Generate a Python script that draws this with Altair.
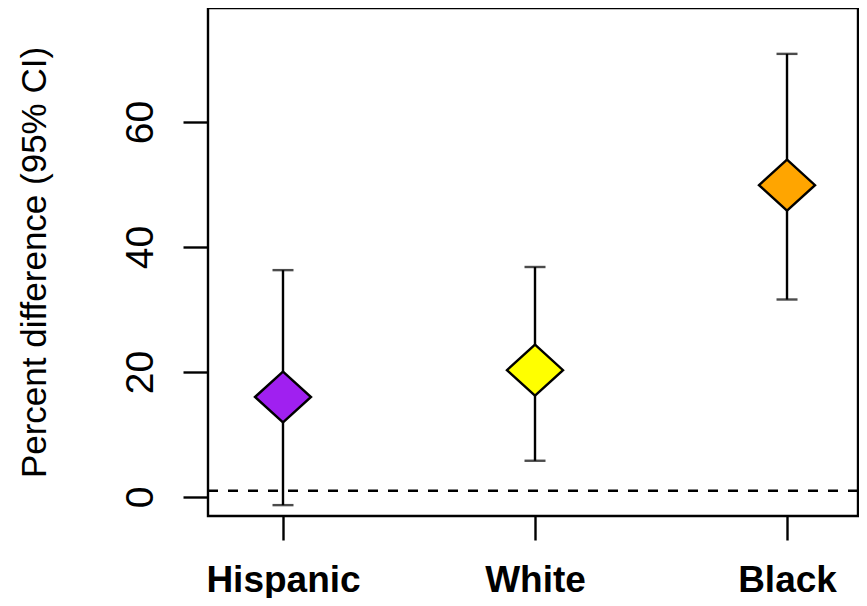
import altair as alt
import pandas as pd

groups = ["Hispanic", "White", "Black"]
positions = [1, 2, 3]
estimate = [16.0, 20.3, 49.9]
ci_low = [-1.3, 5.8, 31.6]
ci_high = [36.3, 36.8, 70.9]
colors = ["#A020F0", "#FFFF00", "#FFA500"]
ref_value = [1.0]
y_ticks = [0, 20, 40, 60]

df = pd.DataFrame({"group": groups, "pos": positions, "est": estimate,
                   "lo": ci_low, "hi": ci_high})
ref = pd.DataFrame({"ref": ref_value})

FONT = "Liberation Sans"
LW = 2.4
label_expr = "[" + ",".join(["''"] + ["'%s'" % g for g in groups]) + "][datum.value]"

x_scale = alt.Scale(domain=[0.7024, 3.2817], nice=False, zero=False)
x_axis = alt.Axis(
    title=None, values=positions, labelExpr=label_expr, domain=False,
    grid=False, ticks=True, tickSize=24, tickWidth=LW, tickColor="black",
    labelFont=FONT, labelFontSize=37, labelFontWeight="bold",
    labelColor="black", labelAngle=0, labelAlign="center",
    labelBaseline="alphabetic", labelPadding=51, labelFlush=False,
    labelOverlap=False,
)
x_enc = alt.X("pos:Q", scale=x_scale, axis=x_axis)

y_scale = alt.Scale(domain=[-3.04, 78.24], nice=False, zero=False)
y_axis = alt.Axis(
    title="Percent difference (95% CI)", values=y_ticks, domain=False,
    grid=False, tickSize=25, tickWidth=LW, tickColor="black",
    labelFont=FONT, labelFontSize=39, labelColor="black", labelAngle=270,
    labelAlign="center", labelBaseline="alphabetic", labelPadding=31,
    labelFlush=False, labelOverlap=False,
    titleFont=FONT, titleFontSize=35, titleFontWeight="normal",
    titleColor="black", titleAngle=270, titleAlign="center",
    titleBaseline="alphabetic", titleX=-163, titleY=254,
)

refline = alt.Chart(ref).mark_rule(
    color="black", strokeWidth=LW, strokeDash=[10, 10]
).encode(y=alt.Y("ref:Q", scale=y_scale, axis=y_axis))

bars = alt.Chart(df).mark_rule(color="black", strokeWidth=LW).encode(
    x=x_enc, y=alt.Y("lo:Q", scale=y_scale, axis=y_axis), y2="hi:Q"
)
cap_lo = alt.Chart(df).mark_tick(color="black", size=21, thickness=LW, orient="horizontal").encode(
    x=x_enc, y=alt.Y("lo:Q", scale=y_scale, axis=y_axis)
)
cap_hi = alt.Chart(df).mark_tick(color="black", size=21, thickness=LW, orient="horizontal").encode(
    x=x_enc, y=alt.Y("hi:Q", scale=y_scale, axis=y_axis)
)
points = alt.Chart(df).mark_point(
    shape="M-1,0L0,-0.91L1,0L0,0.91Z", filled=True, size=3136,
    stroke="black", strokeWidth=LW, opacity=1, fillOpacity=1,
).encode(
    x=x_enc,
    y=alt.Y("est:Q", scale=y_scale, axis=y_axis),
    fill=alt.Fill("group:N", scale=alt.Scale(domain=groups, range=colors), legend=None),
)

chart = alt.layer(refline, bars, cap_lo, cap_hi, points).properties(
    width=650, height=508,
    autosize=alt.AutoSizeParams(type="none"),
    padding={"left": 200, "top": 0, "right": 1, "bottom": 82},
).configure_view(stroke="black", strokeWidth=LW)

chart.save("out.html", embed_options={"renderer": "svg", "actions": False})
